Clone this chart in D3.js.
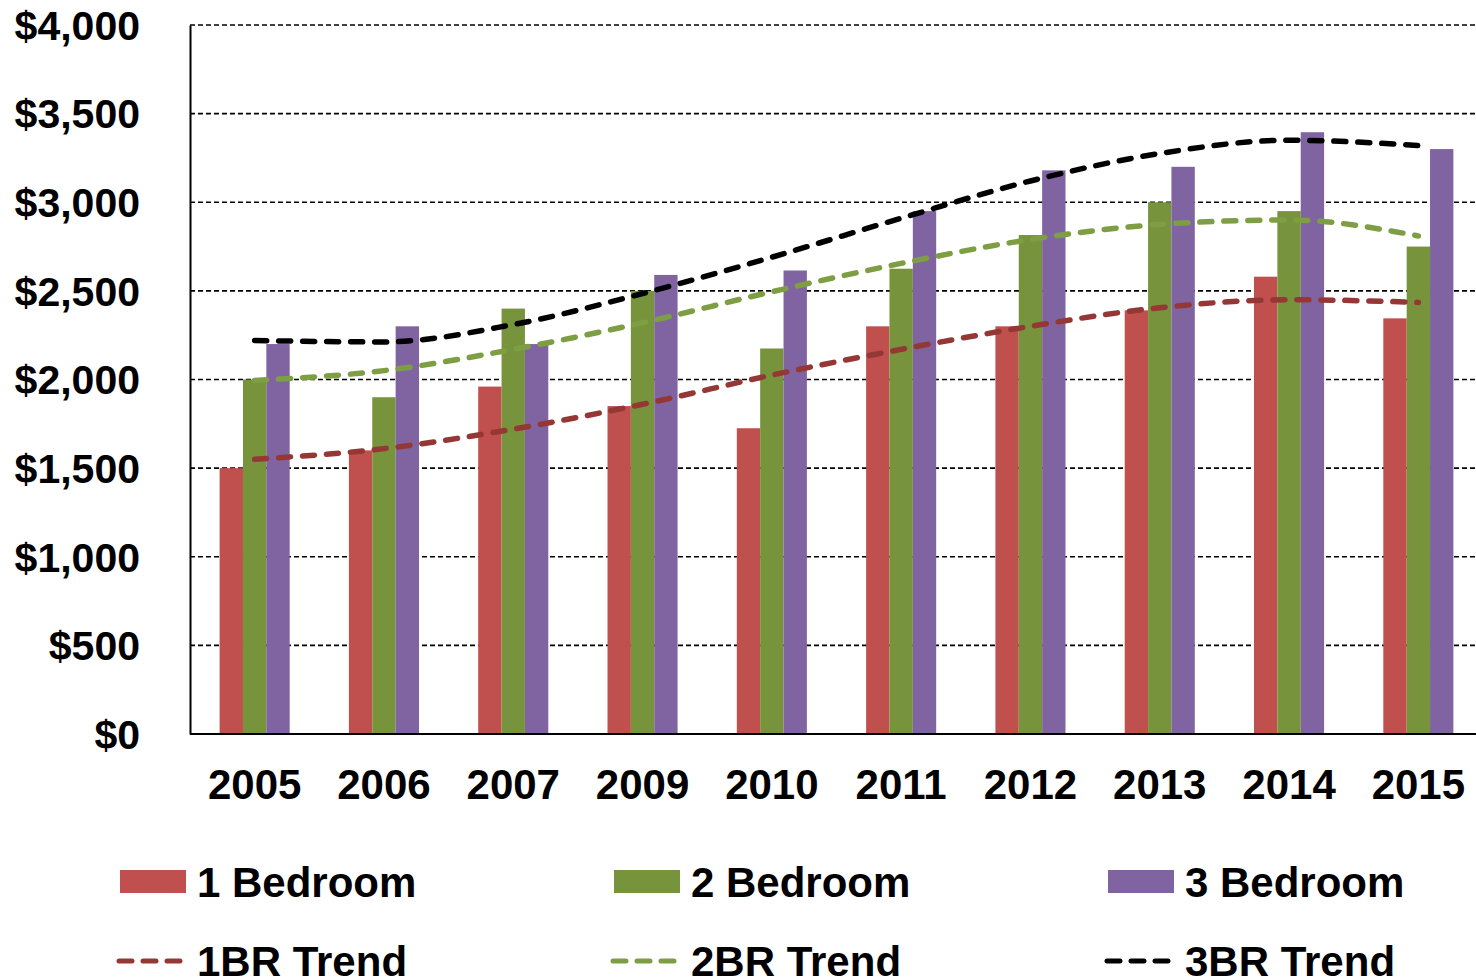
<!DOCTYPE html>
<html>
<head>
<meta charset="utf-8">
<script src="https://cdn.jsdelivr.net/npm/d3@7"></script>
<style>
  html, body { margin: 0; padding: 0; background: #fff; }
  svg { display: block; font-family: "Liberation Sans", Arial, sans-serif; font-weight: bold; }
</style>
</head>
<body>
<svg id="chart" width="1476" height="979"></svg>
<script>
// Average monthly rent by unit size
const years = ["2005", "2006", "2007", "2009", "2010", "2011", "2012", "2013", "2014", "2015"];
const oneBedroom   = [1500, 1600, 1960, 1850, 1725, 2300, 2300, 2390, 2580, 2345];
const twoBedroom   = [2000, 1900, 2400, 2500, 2175, 2625, 2815, 3000, 2950, 2750];
const threeBedroom = [2200, 2300, 2200, 2590, 2615, 2950, 3180, 3200, 3395, 3300];

// Trend values at each year
const oneTrend   = [1550, 1610, 1720, 1860, 2025, 2170, 2300, 2405, 2450, 2435];
const twoTrend   = [1995, 2050, 2170, 2320, 2495, 2655, 2790, 2875, 2900, 2810];
const threeTrend = [2220, 2212, 2310, 2485, 2690, 2910, 3120, 3275, 3350, 3320];

const yTicks = [0, 500, 1000, 1500, 2000, 2500, 3000, 3500, 4000];

const barSeries = [
  { name: "1 Bedroom", values: oneBedroom, color: "#C0504D" },
  { name: "2 Bedroom", values: twoBedroom, color: "#77933C" },
  { name: "3 Bedroom", values: threeBedroom, color: "#8064A2" }
];
const trendSeries = [
  { name: "1BR Trend", values: oneTrend, color: "#953735" },
  { name: "2BR Trend", values: twoTrend, color: "#7D9E42" },
  { name: "3BR Trend", values: threeTrend, color: "#000000" }
];

const svg = d3.select("#chart");
const plotLeft = 190, plotRight = 1483, plotTop = 25, plotBottom = 734;

const x = d3.scaleBand().domain(years).range([plotLeft, plotRight])
  .paddingInner(0.458).paddingOuter(0.229);
const xInner = d3.scaleBand().domain(barSeries.map(s => s.name))
  .range([0, x.bandwidth()]);
const y = d3.scaleLinear().domain([0, 4000]).range([plotBottom, plotTop]);

// Dashed gridlines
svg.append("g")
  .selectAll("line")
  .data(yTicks.filter(t => t > 0))
  .join("line")
  .attr("x1", plotLeft).attr("x2", 1476)
  .attr("y1", d => y(d)).attr("y2", d => y(d))
  .attr("stroke", "#000").attr("stroke-width", 1.7)
  .attr("stroke-dasharray", "5,3");

// Bars
const groups = svg.append("g")
  .selectAll("g")
  .data(years)
  .join("g")
  .attr("transform", d => `translate(${x(d)},0)`);

groups.selectAll("rect")
  .data((d, i) => barSeries.map(s => ({ name: s.name, value: s.values[i], color: s.color })))
  .join("rect")
  .attr("x", d => xInner(d.name))
  .attr("width", xInner.bandwidth())
  .attr("y", d => y(d.value))
  .attr("height", d => y(0) - y(d.value))
  .attr("fill", d => d.color);

// Axes
const yAxis = d3.axisLeft(y).tickValues(yTicks)
  .tickFormat(d => "$" + d3.format(",")(d)).tickSize(0).tickPadding(50);
const yG = svg.append("g").attr("transform", `translate(${plotLeft},0)`).call(yAxis);
yG.select(".domain").attr("stroke", "#000").attr("stroke-width", 2);
yG.selectAll("text")
  .attr("font-size", 41).attr("font-weight", "bold")
  .attr("font-family", "'Liberation Sans', Arial, sans-serif")
  .attr("fill", "#000").attr("dy", "0.35em");

const xAxis = d3.axisBottom(x).tickSize(0).tickPadding(35);
const xG = svg.append("g").attr("transform", `translate(0,${plotBottom})`).call(xAxis);
xG.select(".domain").remove();
xG.selectAll("text")
  .attr("font-size", 42).attr("font-weight", "bold")
  .attr("font-family", "'Liberation Sans', Arial, sans-serif")
  .attr("fill", "#000");
svg.append("line")
  .attr("x1", plotLeft).attr("x2", 1476)
  .attr("y1", plotBottom).attr("y2", plotBottom)
  .attr("stroke", "#000").attr("stroke-width", 2);

// Trend lines
const cx = d => x(d) + x.bandwidth() / 2;
const trendLine = d3.line()
  .x((v, i) => cx(years[i]))
  .y(v => y(v))
  .curve(d3.curveMonotoneX);

svg.append("g")
  .selectAll("path")
  .data(trendSeries)
  .join("path")
  .attr("d", d => trendLine(d.values))
  .attr("fill", "none")
  .attr("stroke", d => d.color)
  .attr("stroke-width", 5.5)
  .attr("stroke-linecap", "round")
  .attr("stroke-dasharray", "12,12");

// Legend
const legendX = [120, 614, 1108];
const legend = svg.append("g");
barSeries.forEach((s, i) => {
  legend.append("rect")
    .attr("x", legendX[i]).attr("y", 870)
    .attr("width", 66).attr("height", 23)
    .attr("fill", s.color);
  legend.append("text")
    .attr("x", legendX[i] + 77).attr("y", 897)
    .attr("font-size", 42).attr("fill", "#000")
    .text(s.name);
});
trendSeries.forEach((s, i) => {
  legend.append("line")
    .attr("x1", legendX[i] - 1).attr("x2", legendX[i] + 62)
    .attr("y1", 961).attr("y2", 961)
    .attr("stroke", s.color).attr("stroke-width", 5)
    .attr("stroke-linecap", "round")
    .attr("stroke-dasharray", "13,11");
  legend.append("text")
    .attr("x", legendX[i] + 77).attr("y", 976)
    .attr("font-size", 42).attr("fill", "#000")
    .text(s.name);
});
</script>
</body>
</html>
